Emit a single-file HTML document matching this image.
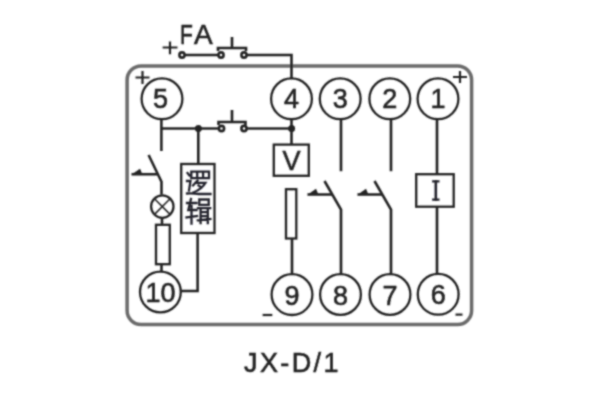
<!DOCTYPE html>
<html><head><meta charset="utf-8">
<style>
html,body{margin:0;padding:0;background:#fff;width:600px;height:400px;overflow:hidden}
svg{position:absolute;left:0;top:0}
text{font-family:"Liberation Sans",sans-serif;fill:#222222;stroke:#222222;stroke-width:0.6px}
</style></head><body>
<svg width="600" height="400" viewBox="0 0 600 400">
<defs><filter id="bl" filterUnits="userSpaceOnUse" x="0" y="0" width="600" height="400"><feConvolveMatrix order="5" kernelMatrix="0.00023 0.00332 0.00809 0.00332 0.00023 0.00332 0.04785 0.11640 0.04785 0.00332 0.00809 0.11640 0.28313 0.11640 0.00809 0.00332 0.04785 0.11640 0.04785 0.00332 0.00023 0.00332 0.00809 0.00332 0.00023" preserveAlpha="false"/></filter></defs>
<g filter="url(#bl)">
<g fill="none" stroke="#222222" stroke-width="2.6">
  <rect x="127.1" y="66" width="344.5" height="258.6" rx="14" ry="14" stroke="#6a6a6a" stroke-width="3.5"/>
  <circle cx="162" cy="98.8" r="20.4" stroke-width="2.3"/>
  <circle cx="291.5" cy="98.8" r="20.4" stroke-width="2.3"/>
  <circle cx="340.2" cy="98.8" r="20.4" stroke-width="2.3"/>
  <circle cx="389.8" cy="98.8" r="20.4" stroke-width="2.3"/>
  <circle cx="438" cy="98.8" r="20.4" stroke-width="2.3"/>
  <circle cx="160.4" cy="292" r="20.4" stroke-width="2.3"/>
  <circle cx="292" cy="294.6" r="20.4" stroke-width="2.3"/>
  <circle cx="340.5" cy="294.5" r="20.4" stroke-width="2.3"/>
  <circle cx="390" cy="294.5" r="20.4" stroke-width="2.3"/>
  <circle cx="438.2" cy="294.3" r="20.4" stroke-width="2.3"/>
  <circle cx="182" cy="55" r="2.6"/>
  <path d="M185 55H218"/>
  <circle cx="221" cy="55" r="2.6"/>
  <circle cx="244" cy="55" r="2.6"/>
  <path d="M218 51V48H246V51M232 48V37"/>
  <path d="M247 55H291.5V78.6"/>
  <path d="M161.4 119V151"/>
  <path d="M161.4 128.5H218.5"/>
  <circle cx="221.5" cy="128.5" r="2.6"/>
  <circle cx="244" cy="128.5" r="2.6"/>
  <path d="M218.5 125V122H245.5V125M232 122V110"/>
  <path d="M247 128.5H291.5"/>
  <path d="M148.6 155L161.5 181.75V194.6"/>
  <path d="M131.5 174.25H157"/>
  <circle cx="162.3" cy="206.6" r="11.2" stroke-width="2.3"/>
  <path d="M154.5 198.8L170.1 214.4M170.1 198.8L154.5 214.4" stroke-width="1.6"/>
  <path d="M162 218V224"/>
  <rect x="156" y="224.8" width="13.8" height="39.4" stroke-width="2.3"/>
  <path d="M161.5 264V272"/>
  <path d="M198.3 128.5V164"/>
  <rect x="181.2" y="164" width="33.3" height="69" stroke-width="2.3"/>
  <path d="M197.6 233V291H180.6"/>
  <path d="M291.5 119V144"/>
  <rect x="273.8" y="144.6" width="35" height="31.2" stroke-width="2.3"/>
  <rect x="286" y="189.2" width="10.3" height="49.3" stroke-width="2.3"/>
  <path d="M292 238.5V274.4"/>
  <path d="M341 119V171.2"/>
  <path d="M324.5 181L341 209.5V274.3"/>
  <path d="M307.5 194.5H332"/>
  <path d="M391 119V171.2"/>
  <path d="M374.5 181L391 209.5V274.3"/>
  <path d="M357.5 194.5H382"/>
  <path d="M437 119V174"/>
  <rect x="416.2" y="174.2" width="37.5" height="32.5" stroke-width="2.3"/>
  <path d="M437 206.7V274.1"/>
</g>
<g fill="#222222" stroke="none">
  <circle cx="198.4" cy="128.5" r="3.5"/>
  <circle cx="291.6" cy="128.6" r="3.5"/>
  <path d="M131.5 174.5L140 168.8L142.5 174.5Z"/>
  <path d="M307.5 194.7L316 188.8L318.5 194.7Z"/>
  <path d="M357.5 194.7L366 188.8L368.5 194.7Z"/>
</g>
<g stroke="#222222" stroke-width="2.2" fill="none">
  <path d="M162.6 47.5H177.5M170 41.4V54.3"/>
  <path d="M135.5 77.5H149.5M142.5 71V84"/>
  <path d="M453 77H467M460 71V83"/>
  <path d="M262.6 315H272.3"/>
  <path d="M455.5 314.6H462.5"/>
</g>
<g fill="none" stroke="#20202a" stroke-width="2.3" stroke-linecap="square">
  <path d="M435.8 181.5V199.5" stroke-width="2.6"/><path d="M433.2 181.4H438.4M433.2 199.6H438.4" stroke-width="2.2"/>
  <path d="M191.3 171.6H209V178.2H191.3Z M197.2 171.6V178.2M203.1 171.6V178.2"/>
  <path d="M197.5 180.5L193 185.5M195.5 182.8H205.5Q202 189 193.5 192.5M198.5 185.5L201.5 187.5"/>
  <path d="M187.5 173L189.5 175.5M187 181H190.5L189 190.5M187 193.5Q192 193 199 194H210.5"/>
  <path d="M187 203H196.5M191 199L188.3 210H196.5M191.5 206V223.5M186.5 217.5L197 216"/>
  <path d="M199.3 199.5H208.7V204.8H199.3Z M198 208.2H210.2M200.6 208.2V223M207.8 208.2V223M200.6 212.2H207.8M200.6 216.2H207.8M197.8 220.3L210.4 219"/>
</g>
<g>
  <text x="194" y="43.6" font-size="28">A</text>
  <text x="160.5" y="108" font-size="27" text-anchor="middle">5</text>
  <text x="291.5" y="108" font-size="27" text-anchor="middle">4</text>
  <text x="340.2" y="108" font-size="27" text-anchor="middle">3</text>
  <text x="389.8" y="108" font-size="27" text-anchor="middle">2</text>
  <text x="438" y="108" font-size="27" text-anchor="middle">1</text>
  <text x="160.4" y="302" font-size="27" text-anchor="middle">10</text>
  <text x="292" y="305" font-size="27" text-anchor="middle">9</text>
  <text x="340.5" y="305" font-size="27" text-anchor="middle">8</text>
  <text x="390" y="305" font-size="27" text-anchor="middle">7</text>
  <text x="438.2" y="304.4" font-size="27" text-anchor="middle">6</text>
  <text x="291.5" y="170" font-size="27" text-anchor="middle">V</text>
  <text x="244" y="372" font-size="27" letter-spacing="2.4">JX-D/1</text>
  <text x="0" y="0" font-size="28" transform="translate(180,43.6) scale(0.75,1)">F</text>
</g>
</g>
</svg>
</body></html>
